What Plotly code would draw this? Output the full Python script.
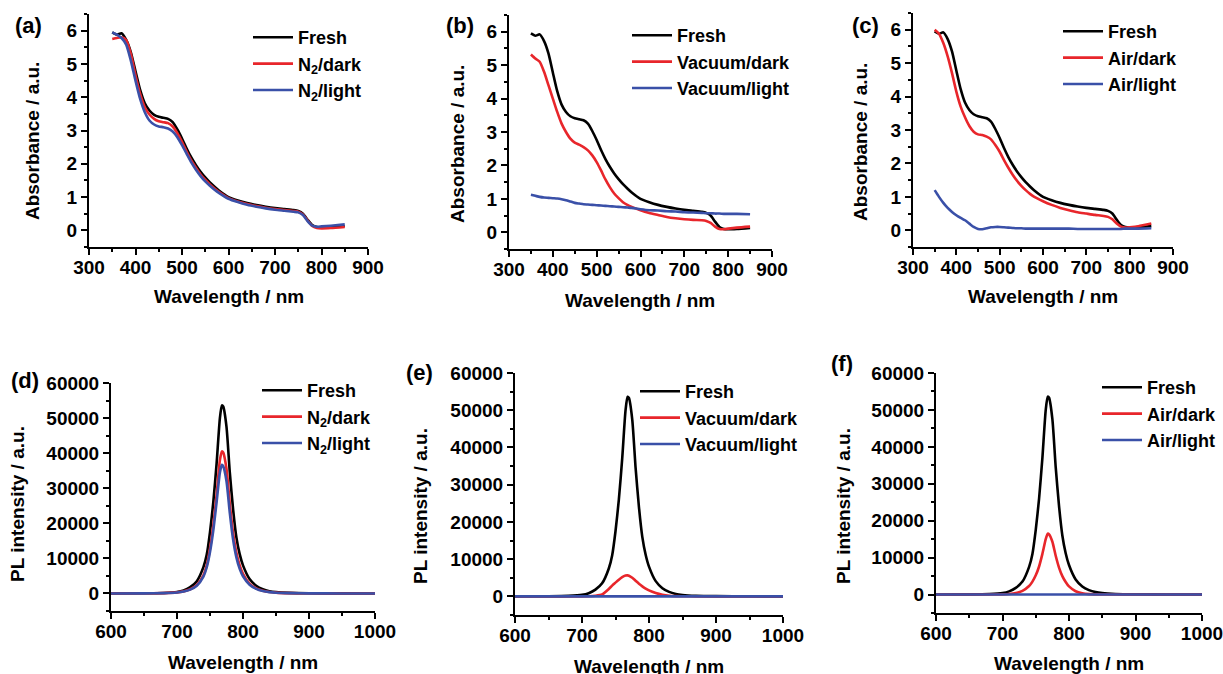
import plotly.graph_objects as go

W, H = 1223, 674

# ---------------- data ----------------
wl_abs = [350, 360, 370, 380, 390, 400, 410, 420, 430, 440, 450, 460, 470, 480, 490, 500,
          510, 520, 530, 540, 550, 560, 570, 580, 600, 620, 640, 660, 680, 700, 720, 740,
          750, 760, 770, 780, 790, 800, 820, 850]

abs_fresh = [5.95, 5.88, 5.92, 5.72, 5.35, 4.78, 4.22, 3.82, 3.6, 3.47, 3.41, 3.38, 3.35, 3.25,
             3.03, 2.76, 2.46, 2.19, 1.96, 1.76, 1.59, 1.44, 1.31, 1.19, 1.0, 0.9, 0.82, 0.76,
             0.71, 0.67, 0.64, 0.61, 0.58, 0.5, 0.32, 0.16, 0.1, 0.09, 0.1, 0.13]
abs_n2_dark = [5.75, 5.78, 5.8, 5.72, 5.3, 4.66, 4.1, 3.7, 3.48, 3.35, 3.28, 3.25, 3.22, 3.12,
               2.92, 2.66, 2.37, 2.1, 1.88, 1.68, 1.52, 1.38, 1.26, 1.15, 0.97, 0.87, 0.79,
               0.73, 0.68, 0.64, 0.61, 0.58, 0.56, 0.48, 0.3, 0.13, 0.07, 0.06, 0.07, 0.1]
abs_n2_light = [5.95, 5.88, 5.78, 5.58, 5.1, 4.5, 3.95, 3.55, 3.3, 3.18, 3.12, 3.1, 3.06, 2.97,
                2.8, 2.56, 2.3, 2.04, 1.82, 1.63, 1.47, 1.34, 1.22, 1.12, 0.95, 0.85, 0.77,
                0.71, 0.66, 0.62, 0.59, 0.56, 0.54, 0.46, 0.28, 0.14, 0.11, 0.12, 0.14, 0.18]
abs_vac_dark = [5.32, 5.2, 5.1, 4.8, 4.4, 4.0, 3.6, 3.25, 3.0, 2.8, 2.68, 2.62, 2.55, 2.45,
                2.3, 2.1, 1.85, 1.58, 1.35, 1.16, 1.02, 0.9, 0.82, 0.76, 0.66, 0.58, 0.52,
                0.46, 0.42, 0.39, 0.37, 0.36, 0.34, 0.28, 0.17, 0.1, 0.09, 0.11, 0.14, 0.17]
abs_vac_light = [1.12, 1.09, 1.06, 1.04, 1.03, 1.02, 1.01, 0.99, 0.96, 0.92, 0.88, 0.86, 0.84,
                 0.83, 0.82, 0.81, 0.8, 0.79, 0.78, 0.77, 0.76, 0.75, 0.74, 0.73, 0.69, 0.66,
                 0.65, 0.63, 0.62, 0.6, 0.59, 0.58, 0.57, 0.57, 0.56, 0.56, 0.55, 0.55, 0.55, 0.54]
abs_air_dark = [6.0, 5.88, 5.6, 5.2, 4.7, 4.15, 3.7, 3.38, 3.12, 2.95, 2.87, 2.85, 2.8, 2.72,
                2.55, 2.35, 2.1, 1.87, 1.66, 1.48, 1.33, 1.2, 1.09, 1.0, 0.87, 0.76, 0.67,
                0.6, 0.54, 0.5, 0.46, 0.43, 0.4, 0.33, 0.2, 0.11, 0.08, 0.09, 0.12, 0.2]
abs_air_light = [1.2, 1.0, 0.82, 0.67, 0.55, 0.45, 0.37, 0.3, 0.2, 0.1, 0.04, 0.03, 0.06, 0.09,
                 0.1, 0.1, 0.09, 0.08, 0.07, 0.06, 0.06, 0.05, 0.05, 0.05, 0.05, 0.05, 0.05,
                 0.05, 0.04, 0.04, 0.04, 0.04, 0.04, 0.04, 0.04, 0.04, 0.05, 0.05, 0.05, 0.06]

wl_pl = [600, 650, 680, 700, 710, 720, 730, 740, 745, 750, 755, 760, 765, 768, 770, 775,
         780, 785, 790, 795, 800, 810, 820, 830, 840, 850, 870, 900, 950, 1000]

pl_fresh = [0, 50, 150, 400, 850, 1800, 3500, 7500, 11000, 17500, 26000, 37000, 50000, 53600,
            53300, 47500, 34500, 24000, 16000, 11200, 8000, 4100, 2200, 1200, 650, 380, 160,
            60, 20, 0]
pl_n2_dark = [0, 40, 110, 300, 600, 1200, 2400, 5200, 8000, 12800, 19500, 28000, 38000, 40500,
              40200, 35500, 25500, 17200, 11600, 8000, 5600, 2800, 1450, 780, 420, 240, 100,
              40, 10, 0]
pl_n2_light = [0, 35, 100, 270, 550, 1100, 2200, 4800, 7400, 11800, 18000, 26000, 34500, 36700,
               36300, 32000, 23000, 15400, 10300, 7000, 4900, 2500, 1300, 680, 370, 210, 90,
               35, 10, 0]
pl_vac_dark = [0, 0, 0, 0, 30, 150, 500, 2000, 2900, 3700, 4500, 5200, 5600, 5650, 5550, 5000,
               4200, 3400, 2700, 2100, 1600, 900, 450, 180, 70, 30, 10, 0, 0, 0]
pl_vac_light = [0, 0, 0, 0, 0, 0, 0, 0, 0, 0, 0, 0, 0, 0, 0, 0, 0, 0, 0, 0, 0, 0, 0, 0, 0, 0,
                0, 0, 0, 0]
pl_air_dark = [0, 0, 20, 50, 150, 400, 1000, 2300, 3500, 5200, 7600, 11000, 15000, 16500, 16300,
               14300, 10500, 7300, 5000, 3400, 2200, 900, 350, 120, 50, 20, 0, 0, 0, 0]
pl_air_light = [0, 0, 0, 0, 0, 0, 0, 0, 0, 0, 0, 0, 0, 0, 0, 0, 0, 0, 0, 0, 0, 0, 0, 0, 0, 0,
                0, 0, 0, 0]

panel_labels = ["(a)", "(b)", "(c)", "(d)", "(e)", "(f)"]
names_a = ["Fresh", "N<sub>2</sub>/dark", "N<sub>2</sub>/light"]
names_b = ["Fresh", "Vacuum/dark", "Vacuum/light"]
names_c = ["Fresh", "Air/dark", "Air/light"]
x_title = "Wavelength / nm"
y_titles = ["Absorbance / a.u."] * 3 + ["PL intensity / a.u."] * 3

# ---------------- style ----------------
BLACK, RED, BLUE = "#000000", "#E8262B", "#3A50A8"
FONT = "Liberation Sans, Arial, Helvetica, sans-serif"
LW = 2.6
FS = 19      # tick labels / axis titles
LFS = 18     # legend text

# panel pixel boxes in the picture: (left, right, top, bottom)
boxes = [(89, 368, 14, 247), (509, 772, 15, 249), (913, 1173, 13, 247),
         (111, 375, 383, 611), (515, 783, 373, 615), (936, 1202, 373, 613)]
# legend text start (px) and first-row centre (px)
legtext = [(298, 37), (677, 35), (1108, 31), (307, 390), (685, 391), (1147, 387)]
labelpos = [(28, 25), (460, 25), (865, 25), (25, 380), (419, 373), (842, 363)]
xtitle_y = [297, 300, 297, 662, 666, 663]
ytitle_pos = [(33, 141), (457, 144), (860, 142), (18, 504), (420, 506), (843, 506)]
ITEMW = 40


def fx(px):
    return px / W


def fy(py):
    return 1 - py / H


fig = go.Figure()

series = [
    (wl_abs, [abs_fresh, abs_n2_dark, abs_n2_light], names_a),
    (wl_abs, [abs_fresh, abs_vac_dark, abs_vac_light], names_b),
    (wl_abs, [abs_fresh, abs_air_dark, abs_air_light], names_c),
    (wl_pl, [pl_fresh, pl_n2_dark, pl_n2_light], names_a),
    (wl_pl, [pl_fresh, pl_vac_dark, pl_vac_light], names_b),
    (wl_pl, [pl_fresh, pl_air_dark, pl_air_light], names_c),
]

colors = [BLACK, RED, BLUE]
layout = {}
annotations = []
titlefont = dict(family=FONT, size=FS, color="black", weight="bold")
for i, (xs, ys_list, names) in enumerate(series):
    k = i + 1
    sfx = "" if k == 1 else str(k)
    legname = "legend" if k == 1 else f"legend{k}"
    for ys, nm, col in zip(ys_list, names, colors):
        fig.add_trace(go.Scatter(
            x=xs, y=ys, name=nm, mode="lines",
            line=dict(color=col, width=LW, shape="spline", smoothing=0.6),
            xaxis="x" + sfx, yaxis="y" + sfx, legend=legname, hoverinfo="skip"))

    l, r, t, b = boxes[i]
    is_abs = i < 3
    tickfont = dict(family=FONT, size=FS, color="black", weight="bold")
    common = dict(showline=True, linecolor="black", linewidth=2, mirror=False,
                  ticks="outside", ticklen=6, tickwidth=2, tickcolor="black",
                  showgrid=False, zeroline=False, tickfont=tickfont, automargin=False,
                  ticklabeloverflow="allow")
    layout["xaxis" + sfx] = dict(
        common, domain=[fx(l), fx(r)], anchor="y" + sfx,
        range=[300, 900] if is_abs else [600, 1000], dtick=100, tick0=0,
        ticklabelstandoff=-4,
        minor=dict(ticks="outside", ticklen=3, tickwidth=2, tickcolor="black", dtick=50,
                   showgrid=False))
    layout["yaxis" + sfx] = dict(
        common, domain=[fy(b), fy(t)], anchor="x" + sfx,
        range=[-0.5, 6.5] if is_abs else [-5000, 60000],
        dtick=1 if is_abs else 10000, tick0=0, tickformat=None if is_abs else "d",
        minor=dict(ticks="outside", ticklen=3, tickwidth=2, tickcolor="black",
                   dtick=0.5 if is_abs else 5000, showgrid=False))
    tx, ty = legtext[i]
    layout[legname] = dict(
        x=fx(tx - ITEMW - 10), y=fy(ty - 18), xanchor="left", yanchor="top",
        bgcolor="rgba(0,0,0,0)", borderwidth=0, tracegroupgap=0,
        itemwidth=ITEMW, font=dict(family=FONT, size=LFS, color="black", weight="bold"))

    # axis titles
    annotations.append(dict(
        text=x_title, x=fx((l + r) / 2), y=fy(xtitle_y[i]), xref="paper", yref="paper",
        xanchor="center", yanchor="middle", showarrow=False, font=titlefont))
    yx, yy = ytitle_pos[i]
    annotations.append(dict(
        text=y_titles[i], x=fx(yx), y=fy(yy), xref="paper", yref="paper",
        xanchor="center", yanchor="middle", showarrow=False, textangle=-90,
        font=titlefont))

for txt, (px, py) in zip(panel_labels, labelpos):
    annotations.append(dict(
        text=txt, x=fx(px), y=fy(py), xref="paper", yref="paper",
        xanchor="center", yanchor="middle", showarrow=False,
        font=dict(family=FONT, size=22, color="black", weight="bold")))

fig.update_layout(
    template="none",
    width=W, height=H, margin=dict(l=0, r=0, t=0, b=0, autoexpand=False),
    paper_bgcolor="white", plot_bgcolor="white", showlegend=True,
    annotations=annotations, **layout)

fig.write_html(
    "out.html",
    config={"displayModeBar": False, "staticPlot": True},
    post_script="document.body.style.margin='0';document.body.style.overflow='hidden';")
